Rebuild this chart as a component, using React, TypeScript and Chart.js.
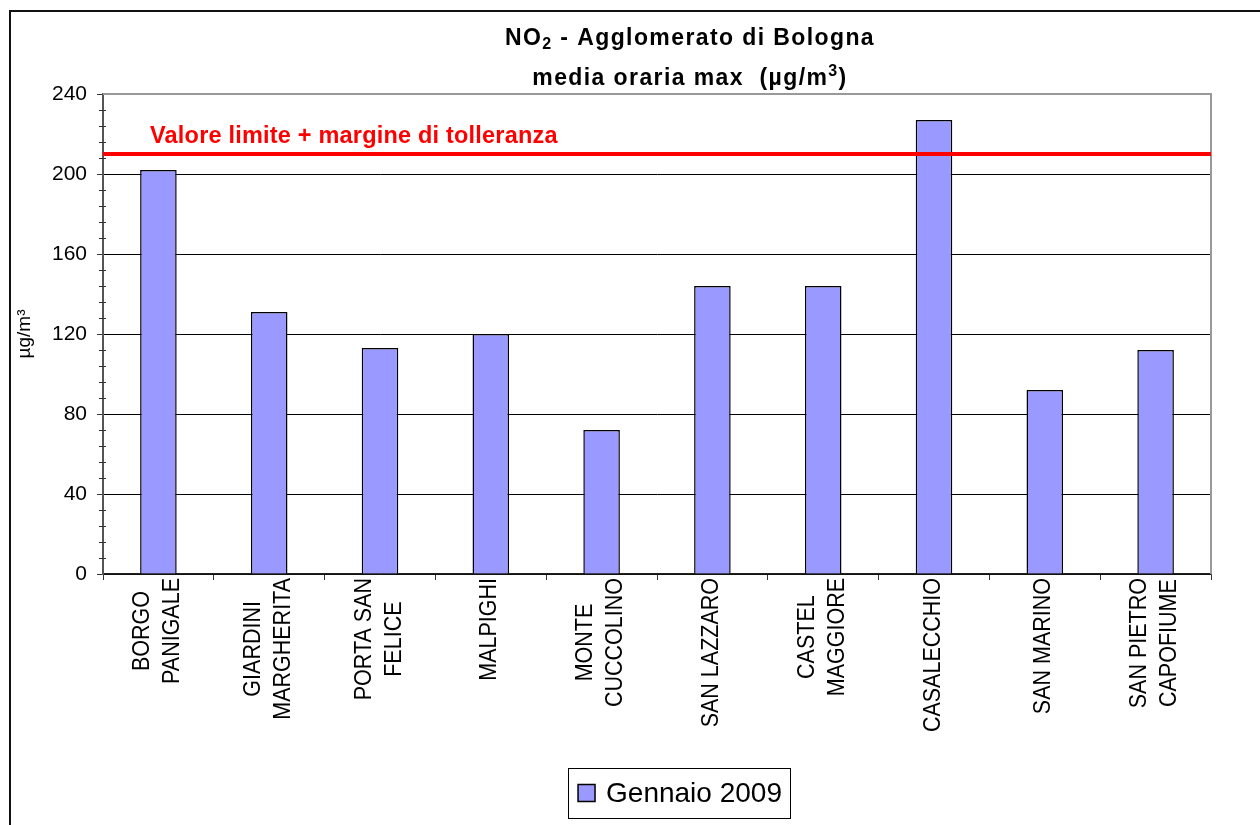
import React, { useEffect, useRef } from "react";
import { Chart, registerables } from "chart.js";

Chart.register(...registerables);

const categories: string[][] = [
  ["BORGO", "PANIGALE"],
  ["GIARDINI", "MARGHERITA"],
  ["PORTA SAN", "FELICE"],
  ["MALPIGHI"],
  ["MONTE", "CUCCOLINO"],
  ["SAN LAZZARO"],
  ["CASTEL", "MAGGIORE"],
  ["CASALECCHIO"],
  ["SAN MARINO"],
  ["SAN PIETRO", "CAPOFIUME"],
];
const seriesLabel = "Gennaio 2009";
const values = [202, 131, 113, 120, 72, 144, 144, 227, 92, 112];
const limitValue = 210;
const limitLabel = "Valore limite + margine di tolleranza";
const yMin = 0;
const yMax = 240;
const yStep = 40;
const yMinorStep = 8;

const FONT = '"Liberation Sans", Arial, sans-serif';

type Piece = { text: string; size: number; dy: number };

function drawRich(ctx: CanvasRenderingContext2D, pieces: Piece[], cx: number, by: number, spacing: number) {
  ctx.save();
  (ctx as any).letterSpacing = spacing + "px";
  ctx.textBaseline = "alphabetic";
  ctx.textAlign = "left";
  let total = 0;
  const widths = pieces.map((p) => {
    ctx.font = `bold ${p.size}px ${FONT}`;
    const w = ctx.measureText(p.text).width;
    total += w;
    return w;
  });
  let x = cx - total / 2;
  pieces.forEach((p, i) => {
    ctx.font = `bold ${p.size}px ${FONT}`;
    ctx.fillStyle = "#000";
    ctx.fillText(p.text, x, by + p.dy);
    x += widths[i];
  });
  ctx.restore();
}

const decorPlugin = {
  id: "decor",
  beforeDraw(chart: any) {
    const ctx = chart.ctx as CanvasRenderingContext2D;
    ctx.save();
    ctx.fillStyle = "#fff";
    ctx.fillRect(0, 0, chart.width, chart.height);
    ctx.strokeStyle = "#111";
    ctx.lineWidth = 2;
    ctx.strokeRect(10, 11, chart.width + 50, chart.height + 50);
    ctx.restore();
  },
  beforeDatasetsDraw(chart: any) {
    const ctx = chart.ctx as CanvasRenderingContext2D;
    const a = chart.chartArea;
    const y = chart.scales.y;
    ctx.save();
    ctx.strokeStyle = "#999";
    ctx.lineWidth = 2;
    ctx.beginPath();
    ctx.moveTo(a.left, a.top);
    ctx.lineTo(a.right, a.top);
    ctx.lineTo(a.right, a.bottom);
    ctx.stroke();
    ctx.strokeStyle = "#333";
    ctx.lineWidth = 1;
    for (let v = yMin; v <= yMax; v += yMinorStep) {
      if (v % yStep === 0) continue;
      const py = Math.round(y.getPixelForValue(v)) + 0.5;
      ctx.beginPath();
      ctx.moveTo(a.left - 4, py);
      ctx.lineTo(a.left + 3, py);
      ctx.stroke();
    }
    ctx.restore();
  },
  afterDatasetsDraw(chart: any) {
    const ctx = chart.ctx as CanvasRenderingContext2D;
    const a = chart.chartArea;
    const y = chart.scales.y;
    const py = y.getPixelForValue(limitValue);
    ctx.save();
    ctx.strokeStyle = "#ff0000";
    ctx.lineWidth = 4;
    ctx.beginPath();
    ctx.moveTo(a.left, py);
    ctx.lineTo(a.right, py);
    ctx.stroke();
    ctx.font = `bold 23.5px ${FONT}`;
    (ctx as any).letterSpacing = "0.2px";
    ctx.fillStyle = "#ff0000";
    ctx.textBaseline = "alphabetic";
    ctx.fillText(limitLabel, 150, py - 11);
    ctx.restore();
  },
  afterDraw(chart: any) {
    const ctx = chart.ctx as CanvasRenderingContext2D;
    const x = chart.scales.x;
    const a = chart.chartArea;
    ctx.save();
    ctx.fillStyle = "#000";
    const size = 21.5;
    ctx.font = `${size}px ${FONT}`;
    const pitch = 30;
    const topY = a.bottom + 4;
    categories.forEach((lines, i) => {
      const px = x.getPixelForTick(i);
      const maxW = Math.max(...lines.map((l) => ctx.measureText(l).width));
      const cy = topY + maxW / 2;
      lines.forEach((line, k) => {
        const off = (k - (lines.length - 1) / 2) * pitch - 1;
        ctx.save();
        ctx.translate(px + off, cy);
        ctx.rotate(-Math.PI / 2);
        ctx.scale(1, 1.1);
        ctx.textAlign = "center";
        ctx.textBaseline = "middle";
        ctx.fillText(line, 0, 0);
        ctx.restore();
      });
    });
    ctx.restore();

    drawRich(ctx, [
      { text: "NO", size: 23, dy: 0 },
      { text: "2", size: 16, dy: 4 },
      { text: " - Agglomerato di Bologna", size: 23, dy: 0 },
    ], 690, 45, 1.4);
    drawRich(ctx, [
      { text: "media oraria max  (µg/m", size: 23, dy: 0 },
      { text: "3", size: 16, dy: -9 },
      { text: ")", size: 23, dy: 0 },
    ], 690, 85, 1.4);

    const ds = chart.data.datasets[0];
    ctx.save();
    ctx.font = `28px ${FONT}`;
    const tw = ctx.measureText(ds.label).width;
    const padL = 10, box = 17, gap = 11, padR = 8;
    const lw = padL + box + gap + tw + padR;
    const lx = 679 - lw / 2;
    const ly = 768, lh = 50;
    ctx.strokeStyle = "#000";
    ctx.lineWidth = 1;
    ctx.strokeRect(Math.round(lx) + 0.5, ly + 0.5, Math.round(lw), lh);
    const cy = ly + lh / 2;
    ctx.fillStyle = ds.backgroundColor;
    ctx.fillRect(lx + padL, cy - box / 2, box, box);
    ctx.lineWidth = 1.5;
    ctx.strokeRect(lx + padL, cy - box / 2, box, box);
    ctx.fillStyle = "#000";
    ctx.textBaseline = "middle";
    ctx.fillText(ds.label, lx + padL + box + gap, cy + 1);
    ctx.restore();
  },
};

export default function App() {
  const ref = useRef<HTMLCanvasElement | null>(null);
  useEffect(() => {
    if (!ref.current) return;
    const chart = new Chart(ref.current, {
      type: "bar",
      data: {
        labels: categories,
        datasets: [
          {
            label: seriesLabel,
            data: values,
            backgroundColor: "#9999ff",
            borderColor: "#000",
            borderWidth: 1.5,
            barPercentage: 0.33,
            categoryPercentage: 1,
          },
        ],
      },
      options: {
        animation: false,
        responsive: true,
        maintainAspectRatio: false,
        layout: { padding: { left: 10, top: 94, right: 49, bottom: 0 } },
        plugins: {
          legend: { display: false },
          title: { display: false },
          tooltip: { enabled: false },
        },
        scales: {
          x: {
            offset: true,
            grid: {
              display: true,
              offset: true,
              drawOnChartArea: false,
              drawTicks: true,
              tickLength: 6,
              color: "#333",
            },
            border: { display: true, color: "#222", width: 1.5 },
            ticks: { display: false },
            afterFit: (s: any) => {
              s.height = 251;
            },
          },
          y: {
            min: yMin,
            max: yMax,
            ticks: {
              stepSize: yStep,
              padding: 10,
              color: "#000",
              font: { family: FONT, size: 21 },
            },
            grid: {
              color: (c: any) => (c.tick && c.tick.value === yMax ? "#999" : "#000"),
              tickColor: "#333",
              tickLength: 6,
              lineWidth: 1,
            },
            border: { display: true, color: "#555", width: 2 },
            title: {
              display: true,
              text: "µg/m³",
              color: "#000",
              font: { family: FONT, size: 19 },
              padding: { top: 3, bottom: 0 },
            },
            afterFit: (s: any) => {
              s.width = 93;
            },
          },
        },
      },
      plugins: [decorPlugin],
    });
    return () => chart.destroy();
  }, []);
  return (
    <div style={{ position: "fixed", left: 0, top: 0, width: 1260, height: 825 }}>
      <canvas ref={ref} />
    </div>
  );
}
